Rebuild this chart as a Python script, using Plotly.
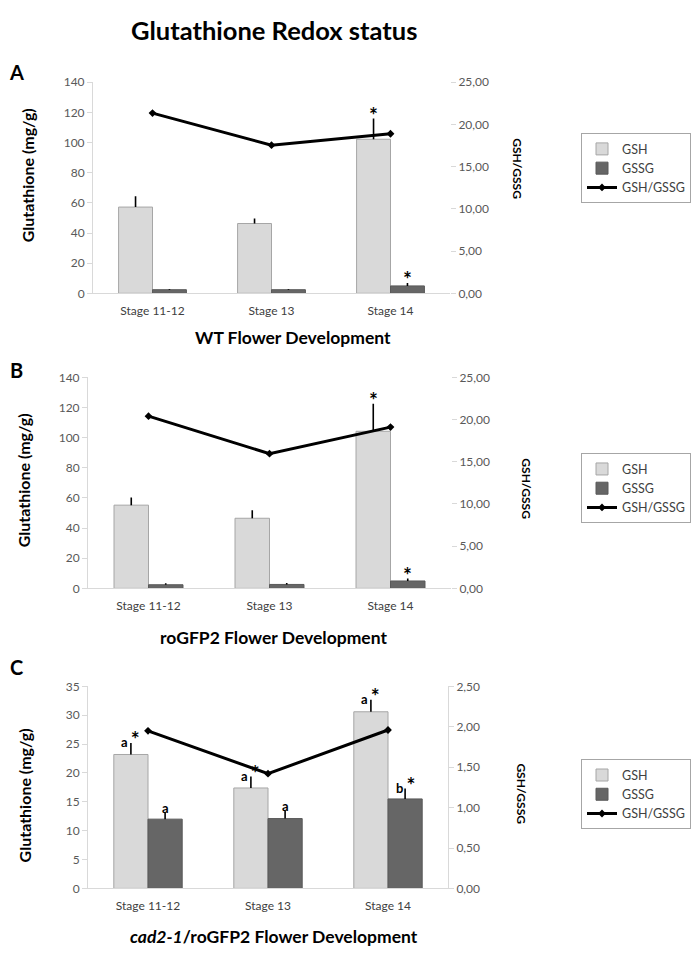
import plotly.graph_objects as go

# ---------------- data ----------------
stages = ["Stage 11-12", "Stage 13", "Stage 14"]

# Panel A (WT)
a_gsh = [57.2, 46.3, 102.2]
a_gsh_err = [7.2, 3.3, 13.7]
a_gssg = [2.4, 2.4, 4.9]
a_gssg_err = [0.5, 0.4, 2.0]
a_ratio = [21.35, 17.55, 18.9]
a_gsh_lbl = ["", "", "*"]
a_gssg_lbl = ["", "", "*"]

# Panel B (roGFP2)
b_gsh = [55.2, 46.5, 104.2]
b_gsh_err = [5.0, 5.3, 18.3]
b_gssg = [2.4, 2.6, 4.9]
b_gssg_err = [1.0, 0.9, 1.6]
b_ratio = [20.4, 15.95, 19.1]
b_gsh_lbl = ["", "", "*"]
b_gssg_lbl = ["", "", "*"]

# Panel C (cad2-1/roGFP2)
c_gsh = [23.2, 17.4, 30.6]
c_gsh_err = [2.0, 2.0, 2.1]
c_gssg = [12.0, 12.1, 15.5]
c_gssg_err = [1.2, 1.4, 1.8]
c_ratio = [1.95, 1.42, 1.96]
c_gsh_lbl = ["a *", "a *", "a *"]
c_gssg_lbl = ["a", "a", "b *"]

ab_left_ticks = [0, 20, 40, 60, 80, 100, 120, 140]
ab_right_ticks = [0, 5, 10, 15, 20, 25]
ab_right_text = ["0,00", "5,00", "10,00", "15,00", "20,00", "25,00"]
c_left_ticks = [0, 5, 10, 15, 20, 25, 30, 35]
c_right_ticks = [0, 0.5, 1.0, 1.5, 2.0, 2.5]
c_right_text = ["0,00", "0,50", "1,00", "1,50", "2,00", "2,50"]

# Page geometry: figure sits 8px from the left and 16px from the top of the page;
# the photographed page is compressed vertically by ~0.984.
OFF_L, OFF_T = 8, 16
W, H = 684, 948
SY = 0.984
FONT = "Lato"
GSH_COLOR = "#D9D9D9"
GSSG_COLOR = "#666666"
BARGAP = 0.43


def px(v):
    return (v - OFF_L) / W


def py(v):
    return 1 - (v / SY - OFF_T) / H


def fmt_label(s):
    parts = []
    for ch in s:
        if ch == "*":
            parts.append("<span style='font-size:21px'>*</span>")
        else:
            parts.append(ch)
    return "<b>" + "".join(parts) + "</b>"


panels = [
    dict(x="x", y="y", y2="y2", leg="legend", gsh=a_gsh, gsh_err=a_gsh_err, gssg=a_gssg,
         gssg_err=a_gssg_err, ratio=a_ratio, gl=a_gsh_lbl, sl=a_gssg_lbl),
    dict(x="x2", y="y3", y2="y4", leg="legend2", gsh=b_gsh, gsh_err=b_gsh_err, gssg=b_gssg,
         gssg_err=b_gssg_err, ratio=b_ratio, gl=b_gsh_lbl, sl=b_gssg_lbl),
    dict(x="x3", y="y5", y2="y6", leg="legend3", gsh=c_gsh, gsh_err=c_gsh_err, gssg=c_gssg,
         gssg_err=c_gssg_err, ratio=c_ratio, gl=c_gsh_lbl, sl=c_gssg_lbl),
]

fig = go.Figure()
annotations = []
half = (1 - BARGAP) / 4

for p in panels:
    fig.add_trace(go.Bar(
        x=stages, y=p["gsh"], name="GSH", xaxis=p["x"], yaxis=p["y"], legend=p["leg"],
        offsetgroup="gsh",
        marker=dict(color=GSH_COLOR, line=dict(color="#A6A6A6", width=1)),
        error_y=dict(type="data", array=p["gsh_err"], arrayminus=[0] * 3, symmetric=False,
                     width=0, color="black", thickness=1.6),
    ))
    fig.add_trace(go.Bar(
        x=stages, y=p["gssg"], name="GSSG", xaxis=p["x"], yaxis=p["y"], legend=p["leg"],
        offsetgroup="gssg",
        marker=dict(color=GSSG_COLOR, line=dict(color="#595959", width=1)),
        error_y=dict(type="data", array=p["gssg_err"], arrayminus=[0] * 3, symmetric=False,
                     width=0, color="black", thickness=1.6),
    ))
    fig.add_trace(go.Scatter(
        x=stages, y=p["ratio"], name="GSH/GSSG", xaxis=p["x"], yaxis=p["y2"], legend=p["leg"],
        mode="lines+markers", line=dict(color="black", width=3),
        marker=dict(symbol="diamond", size=6, color="black"),
    ))
    for i in range(3):
        for lbls, vals, errs, off in ((p["gl"], p["gsh"], p["gsh_err"], -half),
                                      (p["sl"], p["gssg"], p["gssg_err"], half)):
            if lbls[i]:
                annotations.append(dict(
                    x=i + off, y=vals[i] + errs[i], xref=p["x"], yref=p["y"],
                    text=fmt_label(lbls[i]), showarrow=False, yanchor="middle",
                    font=dict(family=FONT, size=13, color="black"), yshift=4,
                ))

axis_common = dict(showgrid=False, zeroline=False,
                   tickfont=dict(family=FONT, size=12, color="#595959"))
xcommon = dict(axis_common, showline=True, linecolor="#D9D9D9", linewidth=1, ticks="",
               tickfont=dict(family=FONT, size=12, color="#404040"), ticklabelstandoff=6)
ycommon = dict(axis_common, showline=True, linecolor="#D9D9D9", linewidth=1, ticks="outside",
               ticklen=5, tickcolor="#D9D9D9")

layout = dict(
    width=W, height=H, margin=dict(l=0, r=0, t=0, b=0),
    paper_bgcolor="white", plot_bgcolor="white",
    barmode="group", bargap=BARGAP, bargroupgap=0,
    font=dict(family=FONT, color="black"),
    xaxis=dict(xcommon, domain=[px(93), px(450)], anchor="y"),
    yaxis=dict(ycommon, domain=[py(293), py(82)], range=[0, 140], tickvals=ab_left_ticks, anchor="x"),
    yaxis2=dict(ycommon, overlaying="y", side="right", anchor="x", range=[0, 25],
                tickvals=ab_right_ticks, ticktext=ab_right_text, showline=False),
    xaxis2=dict(xcommon, domain=[px(88), px(451)], anchor="y3"),
    yaxis3=dict(ycommon, domain=[py(588), py(377)], range=[0, 140], tickvals=ab_left_ticks, anchor="x2"),
    yaxis4=dict(ycommon, overlaying="y3", side="right", anchor="x2", range=[0, 25],
                tickvals=ab_right_ticks, ticktext=ab_right_text, showline=False),
    xaxis3=dict(xcommon, domain=[px(88), px(448)], anchor="y5"),
    yaxis5=dict(ycommon, domain=[py(888), py(686)], range=[0, 35], tickvals=c_left_ticks, anchor="x3"),
    yaxis6=dict(ycommon, overlaying="y5", side="right", anchor="x3", range=[0, 2.5],
                tickvals=c_right_ticks, ticktext=c_right_text),
)

leg_common = dict(bordercolor="#A6A6A6", borderwidth=1, bgcolor="white",
                  font=dict(family=FONT, size=12.5, color="#404040"),
                  xanchor="right", yanchor="top", traceorder="normal", itemwidth=30)
layout["legend"] = dict(leg_common, x=px(691), y=py(133))
layout["legend2"] = dict(leg_common, x=px(691), y=py(453))
layout["legend3"] = dict(leg_common, x=px(691), y=py(759))


def txt(x, y, text, size, angle=0):
    return dict(x=px(x), y=py(y), xref="paper", yref="paper", text=text, showarrow=False,
                textangle=angle, xanchor="center", yanchor="middle",
                font=dict(family=FONT, size=size, color="black"))


annotations += [
    txt(274, 30, "<b>Glutathione Redox status</b>", 25.5),
    txt(16, 72, "<b>A</b>", 20),
    txt(16, 370, "<b>B</b>", 20),
    txt(16, 667, "<b>C</b>", 20),
    txt(293, 337, "<b>WT Flower Development</b>", 17.5),
    txt(273, 637, "<b>roGFP2 Flower Development</b>", 17.5),
    txt(274, 936, "<b><i>cad2-1</i>/roGFP2 Flower Development</b>", 17.5),
    txt(27, 175, "<b>Glutathione (mg/g)</b>", 16, -90),
    txt(23, 480, "<b>Glutathione (mg/g)</b>", 16, -90),
    txt(24, 795, "<b>Glutathione (mg/g)</b>", 16, -90),
    txt(518, 168, "<b>GSH/GSSG</b>", 12, 90),
    txt(527, 488, "<b>GSH/GSSG</b>", 12, 90),
    txt(522, 793, "<b>GSH/GSSG</b>", 12, 90),
]
layout["annotations"] = annotations

fig.update_layout(**layout)
fig.write_html("out.html")
